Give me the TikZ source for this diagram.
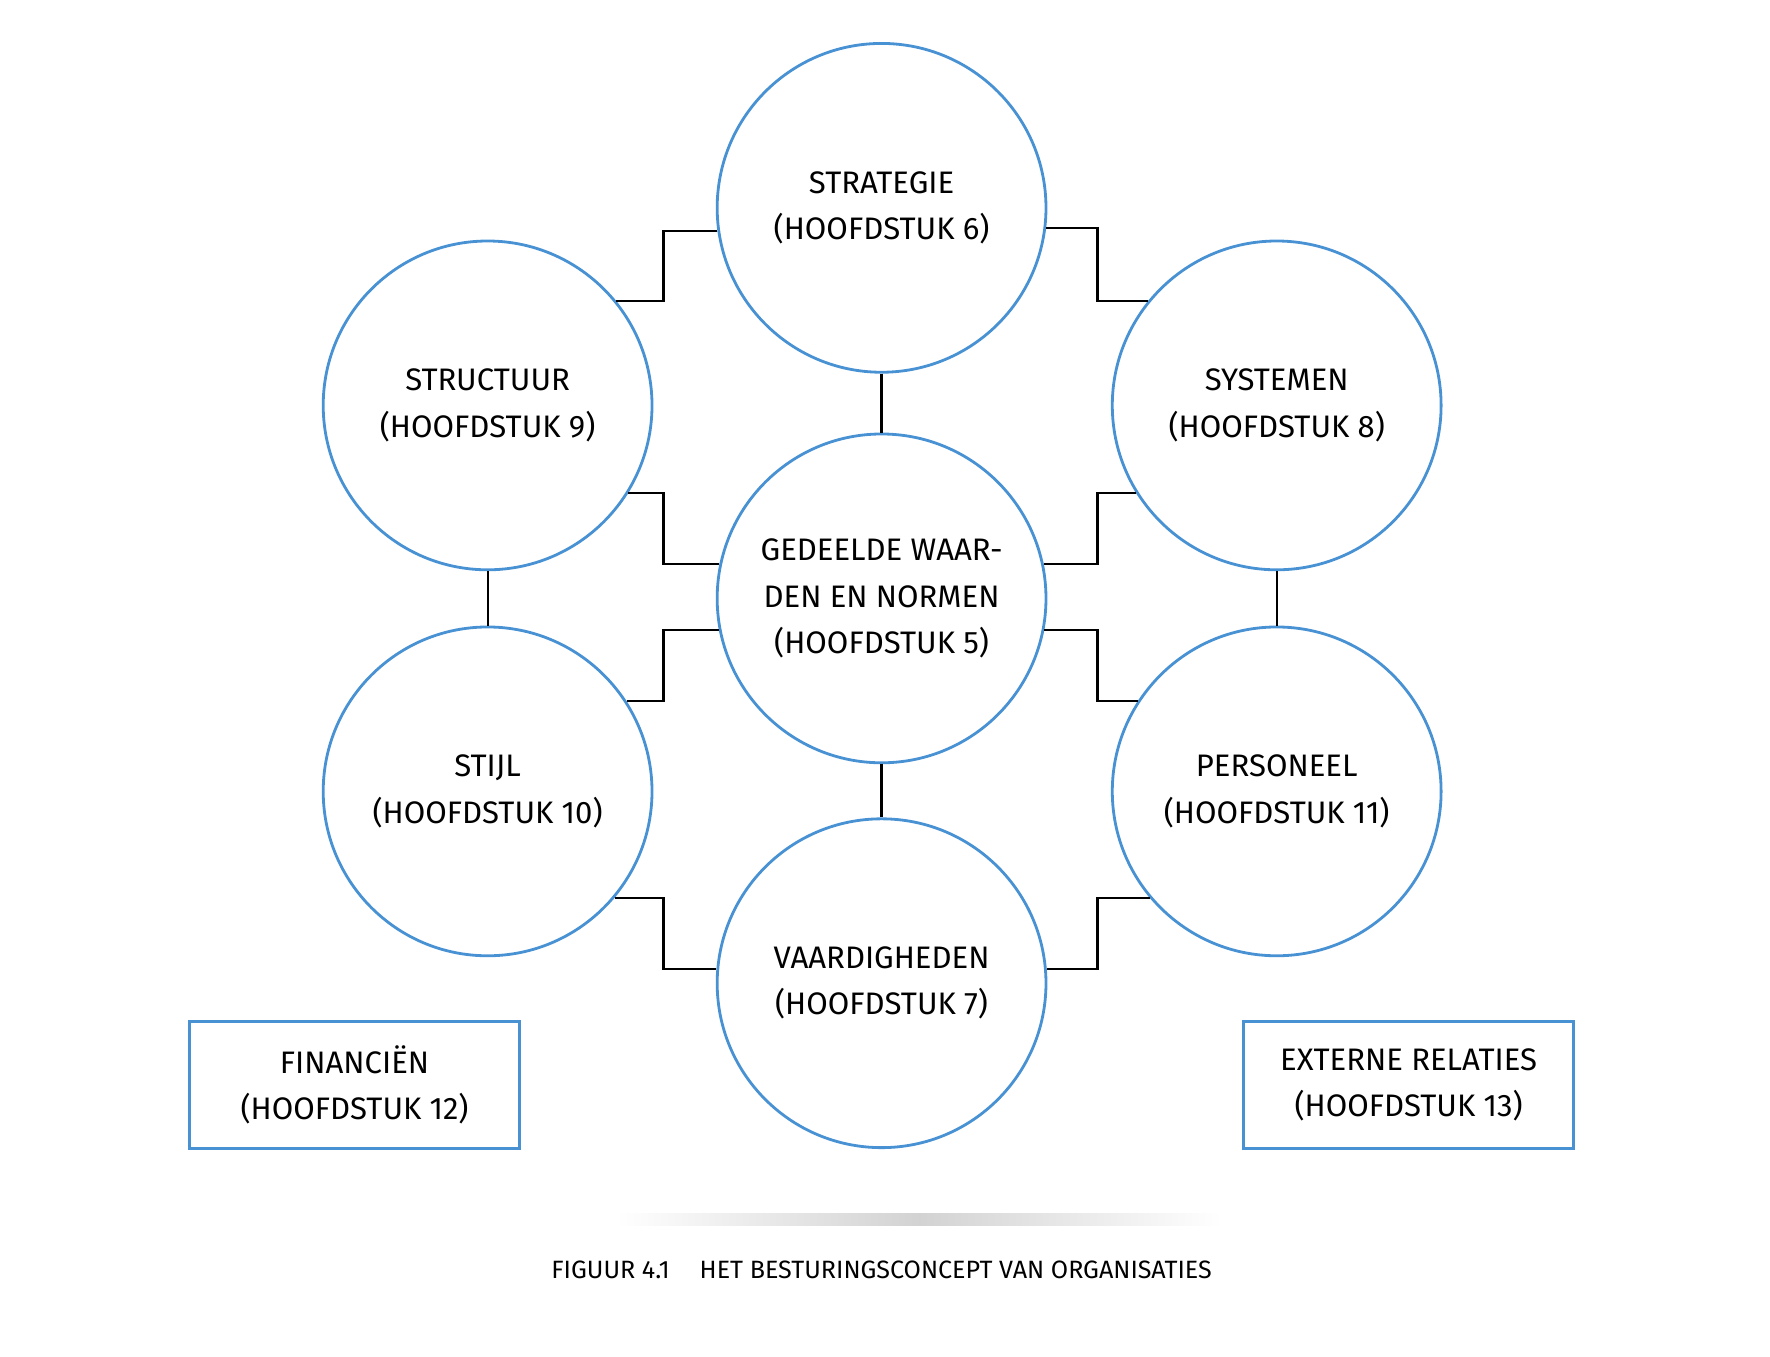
\documentclass[tikz,border=0pt]{standalone}
\usepackage{fontspec}
\setmainfont{Fira Sans}
\definecolor{cblue}{RGB}{72,146,212}
\begin{document}
\begin{tikzpicture}[x=0.02cm,y=-0.02cm,
  circ/.style={circle,draw=cblue,line width=1.4pt,minimum size=5.76cm,inner sep=0pt,align=center,font=\fontsize{15.5}{23}\selectfont},
  box/.style={rectangle,draw=cblue,line width=1.4pt,minimum width=5.78cm,minimum height=2.22cm,align=center,font=\fontsize{15.5}{23}\selectfont},
  con/.style={line width=1.1pt,black}]
\useasboundingbox (0,0) rectangle (1550,1188);
\node[circ] (S) at (772,182) {STRATEGIE\\(HOOFDSTUK 6)};
\node[circ] (T) at (427,355) {STRUCTUUR\\(HOOFDSTUK 9)};
\node[circ] (Y) at (1118,355) {SYSTEMEN\\(HOOFDSTUK 8)};
\node[circ] (G) at (772,524) {GEDEELDE WAAR-\\DEN EN NORMEN\\(HOOFDSTUK 5)};
\node[circ] (L) at (427,693) {STIJL\\(HOOFDSTUK 10)};
\node[circ] (P) at (1118,693) {PERSONEEL\\(HOOFDSTUK 11)};
\node[circ] (V) at (772,861) {VAARDIGHEDEN\\(HOOFDSTUK 7)};
\node[box] (F) at (310.5,950) {FINANCIËN\\(HOOFDSTUK 12)};
\node[box] (E) at (1233.5,950) {EXTERNE RELATIES\\(HOOFDSTUK 13)};
\coordinate (xl) at (581,0);
\coordinate (xr) at (961,0);
\draw[con] (S.-172.5) -| (xl |- T.39) -- (T.39);
\draw[con] (S.-7.5) -| (xr |- Y.141) -- (Y.141);
\draw[con] (T.-32) -| (xl |- G.168) -- (G.168);
\draw[con] (Y.-148) -| (xr |- G.12) -- (G.12);
\draw[con] (G.191) -| (xl |- L.33) -- (L.33);
\draw[con] (G.-11) -| (xr |- P.147) -- (P.147);
\draw[con] (L.-40) -| (xl |- V.175) -- (V.175);
\draw[con] (P.220) -| (xr |- V.5) -- (V.5);
\draw[con] (S.south) -- (G.north);
\draw[con] (G.south) -- (V.north);
\draw[con] (T.south) -- (L.north);
\draw[con] (Y.south) -- (P.north);
\shade[left color=white,right color=white,middle color=gray!35] (540,1063) rectangle (1070,1073);
\node[font=\fontsize{12.5}{15}\selectfont] (C) at (772,1112) {FIGUUR 4.1\hspace{1.2em}HET BESTURINGSCONCEPT VAN ORGANISATIES};
\end{tikzpicture}
\end{document}
